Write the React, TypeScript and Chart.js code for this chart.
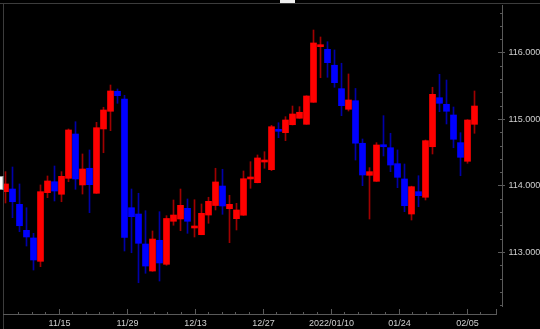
import React, { useEffect, useRef } from 'react';
import { Chart, registerables } from 'chart.js';

Chart.register(...registerables);

// Daily USD/JPY-like candles (index 0 = leftmost visible candle)
const opens = [
  113.907, 113.947, 113.717, 113.326, 113.211, 112.86, 113.892, 114.057, 113.868, 114.108,
  114.774, 114.008, 114.259, 113.883, 114.85, 115.116, 115.417, 115.301, 113.666, 113.571,
  113.12, 112.714, 113.176, 112.815, 113.462, 113.496, 113.657, 113.361, 113.26, 113.556,
  113.699, 113.992, 113.651, 113.501, 113.553, 114.098, 114.042, 114.353, 114.238, 114.835,
  114.794, 114.914, 115.011, 114.92, 115.251, 116.087, 116.048, 115.808, 115.456, 115.146,
  115.275, 114.635, 114.153, 114.063, 114.605, 114.568, 114.328, 114.098, 113.571, 113.907,
  113.823, 114.583, 115.32, 115.221, 115.06, 114.644, 114.364, 114.92,
];
const highs = [
  114.208, 114.278, 114.023, 113.666, 113.281, 114.008, 114.143, 114.293, 114.208, 114.85,
  114.959, 114.474, 114.534, 114.95, 115.176, 115.511, 115.451, 115.356, 113.947, 113.883,
  113.621, 113.316, 113.606, 113.546, 113.782, 113.947, 113.797, 113.786, 113.722, 113.823,
  114.259, 114.244, 113.853, 113.732, 114.218, 114.358, 114.459, 114.508, 114.905, 114.944,
  115.035, 115.195, 115.185, 115.35, 116.338, 116.233, 116.162, 116.038, 115.838, 115.677,
  115.459, 114.699, 114.268, 114.644, 115.05, 114.785, 114.534, 114.323, 113.99, 114.147,
  114.684, 115.477, 115.672, 115.586, 115.18, 114.794, 114.99, 115.421,
];
const lows = [
  113.737, 113.516, 113.305, 113.09, 112.729, 112.779, 113.817, 113.767, 113.756, 114.057,
  113.943, 113.872, 113.591, 113.88, 114.493, 114.824, 115.236, 113.015, 112.989, 112.538,
  112.68, 112.71, 112.564, 112.8, 113.402, 113.32, 113.281, 113.226, 113.26, 113.432,
  113.632, 113.567, 113.14, 113.331, 113.55, 113.958, 114.04, 114.259, 114.223, 114.719,
  114.674, 114.91, 115.01, 114.92, 115.25, 115.621, 115.627, 115.477, 115.05, 115.12,
  114.383, 113.997, 113.496, 114.06, 114.444, 114.208, 113.967, 113.606, 113.481, 113.681,
  113.782, 114.474, 115.11, 114.925, 114.568, 114.147, 114.334, 114.785,
];
const closes = [
  114.023, 113.756, 113.395, 113.226, 112.88, 113.907, 114.068, 113.917, 114.138, 114.835,
  114.098, 114.248, 114.012, 114.869, 115.135, 115.421, 115.35, 113.221, 113.531, 113.131,
  112.789, 113.195, 112.835, 113.504, 113.556, 113.702, 113.462, 113.391, 113.582, 113.762,
  114.053, 113.692, 113.717, 113.632, 114.102, 114.117, 114.414, 114.373, 114.884, 114.815,
  114.985, 115.075, 115.101, 115.346, 116.143, 116.113, 115.847, 115.546, 115.2, 115.286,
  114.636, 114.158, 114.208, 114.609, 114.583, 114.308, 114.123, 113.696, 113.982, 113.847,
  114.674, 115.371, 115.236, 115.116, 114.695, 114.424, 114.985, 115.195,
];

// X-axis tick labels and their positions (in candle-index units)
const tickLabels = ['11/15', '11/29', '12/13', '12/27', '2022/01/10', '01/24', '02/05'];
const tickIdx = [7.6, 17.31, 27.03, 36.74, 46.46, 56.17, 65.89];
// Y-axis labelled ticks
const yTicks = [113, 114, 115, 116];

const UP = '#ff0000';
const DOWN = '#0000ff';
const UP_WICK = '#a00000';
const DOWN_WICK = '#0000a8';

const framePlugin = {
  id: 'frame',
  beforeDraw(chart: any) {
    const ctx = chart.ctx;
    ctx.save();
    ctx.fillStyle = '#000';
    ctx.fillRect(0, 0, chart.width, chart.height);
    ctx.restore();
  },
  afterDraw(chart: any) {
    const ctx = chart.ctx;
    const xs = chart.scales.x;
    const ys = chart.scales.y;
    const line = (x1: number, y1: number, x2: number, y2: number) => {
      ctx.beginPath();
      ctx.moveTo(x1, y1);
      ctx.lineTo(x2, y2);
      ctx.stroke();
    };
    ctx.save();
    ctx.lineWidth = 1;
    // frame
    ctx.strokeStyle = '#3c3c3c';
    line(0, 3.5, 540, 3.5);
    line(3.5, 3, 3.5, 329);
    // x axis
    ctx.strokeStyle = '#5a5a5a';
    line(3, 314.5, 497, 314.5);
    line(496.5, 309, 496.5, 315);
    const step = (tickIdx[1] - tickIdx[0]) / 5;
    for (let k = -5; k <= (tickIdx.length - 1) * 5 + 5; k++) {
      const v = tickIdx[0] + k * step;
      const px = Math.round(xs.getPixelForValue(v)) + 0.5;
      if (px < 9 || px > 492) continue;
      const major = k % 5 === 0;
      line(px, major ? 309 : 312, px, 315);
    }
    // y axis
    line(502.5, 5, 502.5, 307);
    for (let k = 0; k <= 22; k++) {
      const v = 112.2 + k * 0.2;
      const py = Math.round(ys.getPixelForValue(v)) + 0.5;
      const major = Math.abs(v - Math.round(v)) < 0.01;
      if (major) line(498, py, 505, py);
      else line(500, py, 503, py);
    }
    // labels
    ctx.fillStyle = '#d0d0d0';
    ctx.font = '9px "Liberation Sans", Arial, sans-serif';
    ctx.textBaseline = 'middle';
    ctx.textAlign = 'left';
    yTicks.forEach((v) => {
      ctx.fillText(v.toFixed(3), 508.5, ys.getPixelForValue(v) + 0.5);
    });
    ctx.textAlign = 'center';
    tickIdx.forEach((v, i) => {
      ctx.fillText(tickLabels[i], Math.round(xs.getPixelForValue(v)) + 0.5, 324);
    });
    // scroll thumb at top
    ctx.fillStyle = '#f0f0f0';
    ctx.fillRect(280, 0, 15, 3);
    // marker at left edge
    ctx.fillStyle = '#ffffff';
    ctx.fillRect(0, 176, 3, 14);
    ctx.strokeStyle = '#999';
    ctx.strokeRect(-0.5, 176.5, 3.5, 13);
    ctx.restore();
  },
};

export default function App() {
  const ref = useRef<HTMLCanvasElement>(null);
  useEffect(() => {
    document.body.style.margin = '0';
    document.body.style.background = '#000';
    const canvas = ref.current;
    if (!canvas) return;
    const isUp = (i: number) => closes[i] >= opens[i];
    const chart = new Chart(canvas, {
      type: 'bar',
      data: {
        datasets: [
          {
            label: 'body',
            data: opens.map((o, i) => ({ x: i, y: [o, closes[i]] })) as any,
            backgroundColor: (c: any) => (isUp(c.dataIndex) ? UP : DOWN),
            barThickness: 6,
            minBarLength: 2,
            grouped: false,
            order: 0,
          } as any,
          {
            label: 'wick',
            data: lows.map((l, i) => ({ x: i, y: [l, highs[i]] })) as any,
            backgroundColor: (c: any) => (isUp(c.dataIndex) ? UP_WICK : DOWN_WICK),
            barThickness: 1,
            grouped: false,
            order: 1,
          } as any,
        ],
      },
      options: {
        animation: false,
        responsive: false,
        devicePixelRatio: 1,
        layout: { padding: { left: 3, top: 5, right: 43, bottom: 22 } },
        plugins: { legend: { display: false }, tooltip: { enabled: false } },
        scales: {
          x: { type: 'linear', min: -0.357, max: 70.214, offset: false, display: false, grid: { offset: false } },
          y: { type: 'linear', min: 112.173, max: 116.714, display: false },
        },
      } as any,
      plugins: [framePlugin],
    });
    return () => chart.destroy();
  }, []);
  return (
    <div style={{ position: 'fixed', left: 0, top: 0, width: 540, height: 329, background: '#000' }}>
      <canvas ref={ref} width={540} height={329} style={{ display: 'block', width: 540, height: 329 }} />
    </div>
  );
}
